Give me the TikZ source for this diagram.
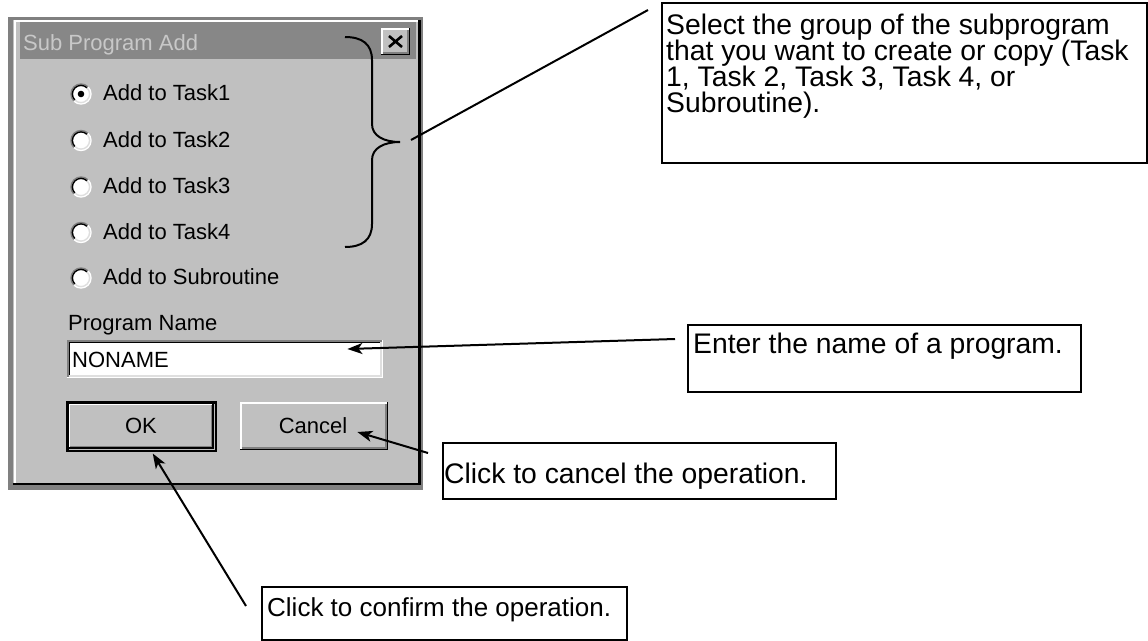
\documentclass[tikz,border=0pt]{standalone}
\usepackage{fontspec}
\setmainfont{Liberation Sans}
\usetikzlibrary{arrows.meta,calc}
\definecolor{uiface}{HTML}{C0C0C0}
\definecolor{uidark}{HTML}{808080}
\definecolor{uilight}{HTML}{FFFFFF}
\definecolor{uisoft}{HTML}{DFDFDF}
\definecolor{titlebg}{HTML}{878787}
\definecolor{titlefg}{HTML}{C8C8C8}

% lines set at exactly the baseline skip
\newcommand\tightlines{\lineskiplimit=-50pt\relax}
% raised 3D frame: x1 y1 x2 y2
\newcommand\uiRaised[4]{%
  \fill[uiface] (#1,#2) rectangle (#3,#4);
  \draw[uilight, line width=1.5pt] (#1+0.75,#4-1) -- (#1+0.75,#2+0.75) -- (#3-1,#2+0.75);
  \draw[black, line width=1.5pt] (#1,#4-0.75) -- (#3-0.75,#4-0.75) -- (#3-0.75,#2);
  \draw[uidark, line width=1.5pt] (#1+1.5,#4-2.25) -- (#3-2.25,#4-2.25) -- (#3-2.25,#2+1.5);
}
% radio button at centre x y
\newcommand\uiRadio[2]{%
  \fill[white] (#1,#2) circle (10);
  \draw[uidark, line width=1.4pt] (#1,#2) ++(135:10) arc[start angle=135, end angle=315, radius=10];
  \draw[uilight, line width=1.4pt] (#1,#2) ++(315:10) arc[start angle=315, end angle=495, radius=10];
  \draw[black, line width=1.4pt] (#1,#2) ++(135:8.6) arc[start angle=135, end angle=315, radius=8.6];
  \draw[uisoft, line width=1.4pt] (#1,#2) ++(315:8.6) arc[start angle=315, end angle=495, radius=8.6];
}

\begin{document}
\begin{tikzpicture}[x=1pt,y=-1pt,
  uitext/.style={font=\fontsize{22}{26}\selectfont, inner sep=0pt, anchor=base west},
  calltext/.style={font=\fontsize{28.3}{26}\selectfont\tightlines, inner sep=0pt, align=left},
  callbox/.style={draw=black, line width=1.8pt, anchor=north west, inner sep=0pt},
  callline/.style={line width=2pt, black},
  callarrow/.style={callline, -{Stealth[length=15pt,width=11pt,inset=4pt]}},
]
\useasboundingbox[fill=white] (0,0) rectangle (1148,640);

% ---- dialog window ----
\fill[uidark] (8,17) rectangle (423,490);
\fill[uiface] (13,20) rectangle (420,485);
\draw[uilight, line width=2pt] (15,485) -- (15,21) -- (419,21);
\draw[black, line width=2.5pt] (13,484) -- (419.5,484) -- (419.5,20);
\fill[titlebg] (20,22) rectangle (416,59);
\node[uitext, text=titlefg] (title) at (23,50) {Sub Program Add};

% close button
\uiRaised{381}{28}{410}{55}
\draw[black, line width=2.6pt] (389,36) -- (402,47) (389,47) -- (402,36);

% radio buttons
\foreach \yy/\nm/\lbl in {94/r1/Add to Task1, 140.5/r2/Add to Task2, 187/r3/Add to Task3, 232.5/r4/Add to Task4, 278/r5/Add to Subroutine}{
  \uiRadio{81}{\yy}
  \node[uitext] (\nm) at (103,\yy+6.5) {\lbl};
}
\fill[black] (81,94) circle (3.3);

% program name field
\node[uitext] (pname) at (68,330) {Program Name};
\node[fill=white, inner sep=0pt, minimum width=316pt, minimum height=38pt, anchor=north west] (tbox) at (67,340) {};
\draw[uidark, line width=1.5pt] (67.75,378) -- (67.75,340.75) -- (383,340.75);
\draw[black, line width=1.5pt] (69.25,376.5) -- (69.25,342.25) -- (381.5,342.25);
\draw[uilight, line width=1.5pt] (67,377.25) -- (382.25,377.25) -- (382.25,340);
\draw[uisoft, line width=1.5pt] (68.5,375.75) -- (380.75,375.75) -- (380.75,341.5);
\node[uitext] (tval) at (72,367) {NONAME};

% buttons
\node[draw=black, line width=1.5pt, inner sep=0pt, minimum width=148pt, minimum height=48pt, anchor=north west] (okbtn) at (67,402) {};
\uiRaised{68.5}{403.5}{213.5}{448.5}
\draw[black, line width=1.5pt] (okbtn.south west) rectangle (okbtn.north east);
\node[uitext, anchor=base] (oktxt) at (141,433) {OK};
\node[inner sep=0pt, minimum width=148pt, minimum height=48pt, anchor=north west] (canbtn) at (240,402) {};
\uiRaised{240}{402}{388}{450}
\node[uitext, anchor=base] (cantxt) at (313,433) {Cancel};

% brace grouping the four task options
\draw[line width=2pt] (345,37) .. controls (362,37) and (372,44) .. (372,60) -- (372,124)
  .. controls (372,136) and (384,142) .. (400,142)
  .. controls (384,142) and (372,148) .. (372,160) -- (372,224)
  .. controls (372,240) and (362,247) .. (345,247);
\coordinate (btip) at (400,142);

% ---- callouts ----
\node[callbox, minimum width=485pt, minimum height=160pt] (sel) at (661,2) {};
\node[calltext, anchor=north west] (seltxt) at (666,13.5) {Select the group of the subprogram\\that you want to create or copy (Task\\1, Task 2, Task 3, Task 4, or\\Subroutine).};

\node[callbox, minimum width=393pt, minimum height=67pt] (ent) at (687,324) {};
\node[calltext, anchor=base west] (enttxt) at (693,353) {Enter the name of a program.};

\node[callbox, minimum width=393pt, minimum height=56pt] (can) at (442,442) {};
\node[calltext, anchor=base west] (cantip) at (444,483) {Click to cancel the operation.};

\node[callbox, minimum width=365pt, minimum height=53pt] (conf) at (261,586) {};
\node[calltext, font=\fontsize{26}{26}\selectfont, anchor=base west] (conftxt) at (267,616) {Click to confirm the operation.};

% connectors
\coordinate (selA) at ($(btip)+(11,-2)$);
\coordinate (selB) at ($(sel.north west)+(-13,8)$);
\draw[callline] (selA) -- (selB);

\coordinate (entA) at ($(ent.north west)+(-12,15)$);
\coordinate (entB) at ($(tbox.north east)+(-36,9)$);
\draw[callarrow] (entA) -- (entB);

\coordinate (canA) at ($(can.north west)+(-14,11)$);
\coordinate (canB) at ($(canbtn.north east)+(-31,30)$);
\draw[callarrow] (canA) -- (canB);

\coordinate (confA) at ($(conf.north west)+(-15,20)$);
\coordinate (confB) at ($(okbtn.south)+(11,2)$);
\draw[callarrow] (confA) -- (confB);
\end{tikzpicture}
\end{document}
